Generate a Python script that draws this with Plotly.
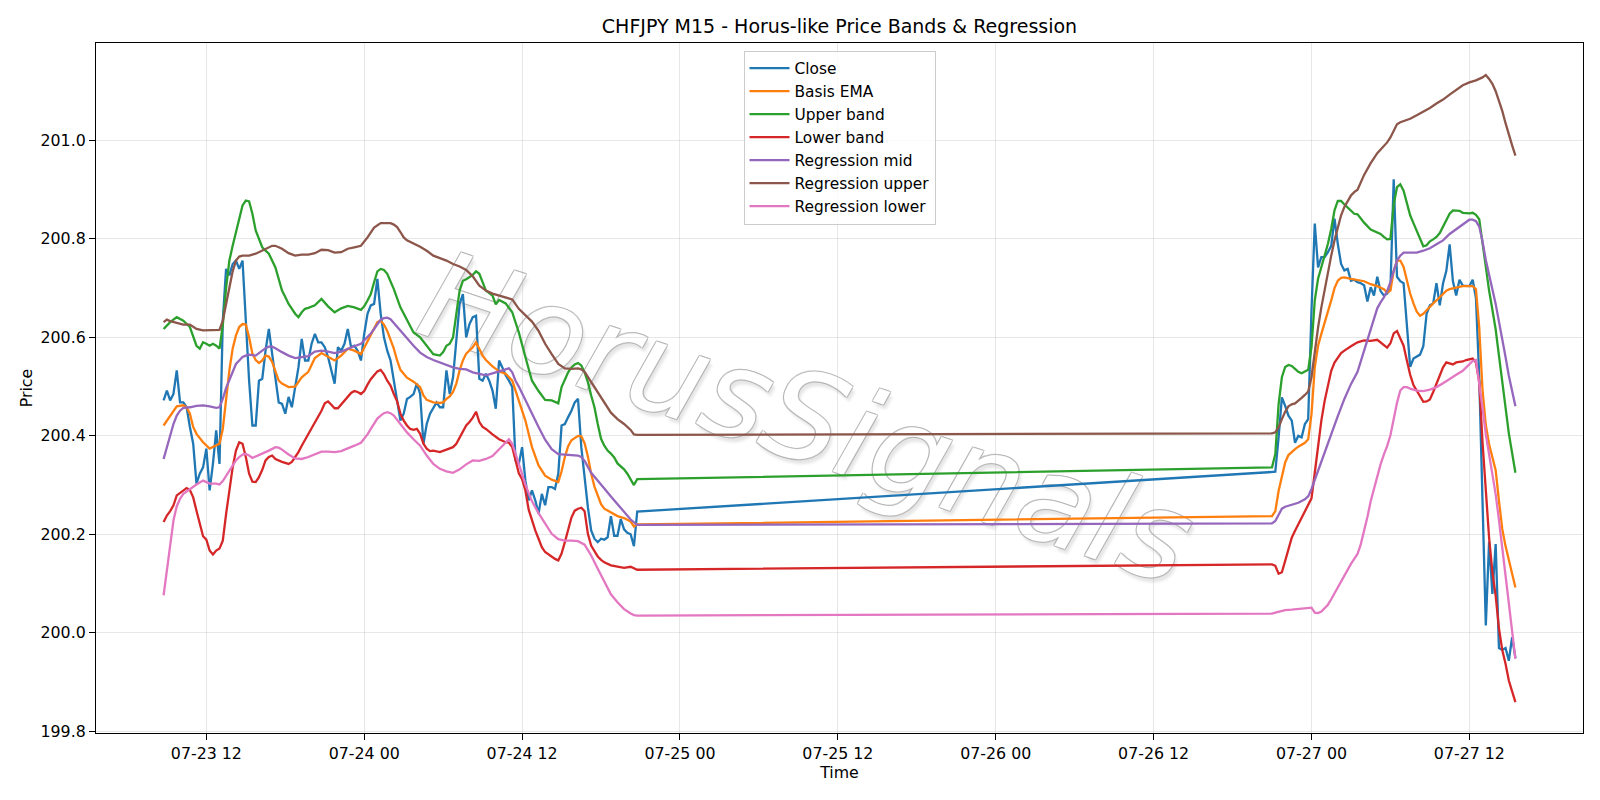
import pandas as pd
import plotly.graph_objects as go

# ---------------- time axis (15-minute bars, weekend gap) ----------------
fri_times = pd.date_range("2026-07-23 08:45", "2026-07-24 20:45", freq="15min")  # 145 bars
sun_times = pd.date_range("2026-07-26 21:00", "2026-07-27 15:30", freq="15min")  # 75 bars
times = fri_times.append(sun_times)
N_FRI = len(fri_times)

# ---------------- Close (every bar) ----------------
close_fri = [
    200.472, 200.492, 200.472, 200.485, 200.533, 200.468, 200.468, 200.458, 200.418, 200.384,
    200.303, 200.323, 200.336, 200.374, 200.289, 200.343, 200.411, 200.343, 200.634, 200.739,
    200.726, 200.749, 200.756, 200.739, 200.756, 200.634, 200.512, 200.421, 200.421, 200.512,
    200.516, 200.573, 200.617, 200.567, 200.512, 200.468, 200.465, 200.445, 200.479, 200.458,
    200.499, 200.539, 200.597, 200.553, 200.553, 200.587, 200.607, 200.590, 200.590, 200.580,
    200.560, 200.533, 200.506, 200.580, 200.573, 200.587, 200.617, 200.580, 200.583, 200.573,
    200.553, 200.607, 200.648, 200.665, 200.668, 200.719, 200.648, 200.600, 200.573, 200.553,
    200.512, 200.479, 200.431, 200.445, 200.475, 200.479, 200.485, 200.506, 200.485, 200.384,
    200.424, 200.445, 200.458, 200.468, 200.458, 200.458, 200.533, 200.485, 200.519, 200.600,
    200.668, 200.688, 200.600, 200.627, 200.641, 200.644, 200.516, 200.512, 200.526, 200.512,
    200.492, 200.455, 200.553, 200.539, 200.523, 200.512, 200.499, 200.350, 200.343, 200.377,
    200.309, 200.269, 200.289, 200.269, 200.242, 200.282, 200.259, 200.296, 200.296, 200.292,
    200.323, 200.421, 200.424, 200.438, 200.451, 200.468, 200.475, 200.377, 200.309, 200.255,
    200.208, 200.191, 200.184, 200.191, 200.189, 200.194, 200.237, 200.197, 200.197, 200.231,
    200.210, 200.203, 200.200, 200.176, 200.246,
]
close_sun = [
    200.327, 200.327, 200.397, 200.478, 200.461, 200.441, 200.431, 200.386, 200.400, 200.397,
    200.424, 200.434, 200.654, 200.831, 200.742, 200.763, 200.763, 200.773, 200.786, 200.841,
    200.790, 200.749, 200.736, 200.739, 200.715, 200.717, 200.712, 200.710, 200.706, 200.673,
    200.702, 200.685, 200.723, 200.694, 200.685, 200.689, 200.698, 200.921, 200.723, 200.714,
    200.710, 200.615, 200.540, 200.557, 200.561, 200.565, 200.582, 200.648, 200.665, 200.669,
    200.710, 200.665, 200.710, 200.735, 200.789, 200.714, 200.685, 200.717, 200.705, 200.704,
    200.704, 200.717, 200.680, 200.520, 200.280, 200.015, 200.185, 200.079, 200.180, 199.969,
    199.965, 199.969, 199.943, 199.991, 199.949,
]

# ---------------- smooth series: (bar, value) read at selected bars ----------------
ema_fri = [(0, 200.421), (2, 200.441), (4, 200.460), (6, 200.462), (7, 200.458), (8, 200.445), (9, 200.418),
           (10, 200.404), (12, 200.387), (14, 200.374), (15, 200.377), (16, 200.380), (17, 200.384),
           (18, 200.414), (19, 200.472), (20, 200.533), (21, 200.577), (22, 200.604), (23, 200.621),
           (24, 200.627), (25, 200.626), (26, 200.600), (27, 200.567), (28, 200.554), (29, 200.548),
           (30, 200.553), (31, 200.563), (32, 200.561), (33, 200.550), (34, 200.529), (35, 200.512),
           (36, 200.506), (38, 200.499), (40, 200.500), (41, 200.509), (42, 200.519), (44, 200.530),
           (46, 200.558), (48, 200.568), (50, 200.560), (52, 200.553), (54, 200.563), (56, 200.577),
           (58, 200.573), (60, 200.566), (61, 200.579), (62, 200.592), (63, 200.606), (64, 200.619),
           (65, 200.631), (66, 200.634), (67, 200.626), (68, 200.613), (69, 200.595), (70, 200.577),
           (71, 200.553), (72, 200.534), (74, 200.518), (76, 200.510), (78, 200.499), (79, 200.482),
           (80, 200.473), (82, 200.468), (84, 200.467), (85, 200.468), (86, 200.475), (87, 200.480),
           (88, 200.489), (89, 200.506), (90, 200.533), (91, 200.553), (92, 200.567), (93, 200.573),
           (94, 200.580), (95, 200.590), (96, 200.577), (97, 200.563), (98, 200.554), (100, 200.541),
           (102, 200.531), (104, 200.526), (106, 200.512), (107, 200.492), (108, 200.472), (109, 200.451),
           (110, 200.431), (112, 200.377), (114, 200.340), (116, 200.319), (118, 200.311), (120, 200.306),
           (121, 200.328), (122, 200.357), (123, 200.379), (124, 200.391), (126, 200.400), (127, 200.399),
           (128, 200.385), (129, 200.358), (130, 200.323), (131, 200.297), (132, 200.277), (133, 200.261),
           (134, 200.252), (136, 200.244), (138, 200.237), (140, 200.233), (142, 200.226), (143, 200.216),
           (144, 200.220)]
ema_sun = [(0, 200.237), (1, 200.247), (2, 200.288), (3, 200.319), (4, 200.346), (5, 200.361), (6, 200.368),
           (7, 200.373), (8, 200.378), (9, 200.382), (10, 200.386), (11, 200.393), (12, 200.444),
           (13, 200.539), (14, 200.583), (15, 200.607), (16, 200.628), (17, 200.649), (18, 200.675),
           (19, 200.700), (20, 200.715), (21, 200.721), (22, 200.722), (24, 200.719), (26, 200.717),
           (28, 200.714), (30, 200.708), (32, 200.704), (34, 200.698), (35, 200.691), (36, 200.695),
           (37, 200.735), (38, 200.756), (39, 200.756), (40, 200.743), (41, 200.714), (42, 200.689),
           (43, 200.669), (44, 200.652), (45, 200.644), (46, 200.648), (47, 200.655), (48, 200.663),
           (49, 200.669), (50, 200.675), (51, 200.681), (52, 200.689), (53, 200.695), (54, 200.698),
           (56, 200.701), (58, 200.704), (60, 200.704), (61, 200.704), (62, 200.698), (63, 200.620),
           (64, 200.493), (65, 200.422), (66, 200.383), (67, 200.359), (68, 200.330), (69, 200.268),
           (70, 200.211), (71, 200.176), (72, 200.150), (73, 200.123), (74, 200.092)]

upper_fri = [(0, 200.617), (2, 200.631), (4, 200.641), (6, 200.634), (8, 200.621), (9, 200.604), (10, 200.583),
             (11, 200.577), (12, 200.590), (13, 200.587), (14, 200.583), (15, 200.587), (16, 200.583),
             (17, 200.577), (18, 200.625), (19, 200.700), (20, 200.756), (21, 200.786), (22, 200.814),
             (23, 200.844), (24, 200.868), (25, 200.878), (26, 200.876), (27, 200.851), (28, 200.817),
             (29, 200.800), (30, 200.783), (31, 200.776), (32, 200.770), (34, 200.742), (36, 200.695),
             (37, 200.682), (38, 200.668), (40, 200.648), (41, 200.641), (42, 200.651), (43, 200.658),
             (44, 200.660), (46, 200.665), (48, 200.678), (50, 200.663), (52, 200.651), (54, 200.659),
             (56, 200.664), (58, 200.661), (60, 200.656), (61, 200.663), (62, 200.675), (63, 200.688),
             (64, 200.712), (65, 200.734), (66, 200.739), (67, 200.737), (68, 200.729), (69, 200.715),
             (70, 200.698), (72, 200.661), (74, 200.634), (76, 200.610), (78, 200.600), (80, 200.583),
             (82, 200.566), (84, 200.563), (85, 200.570), (86, 200.583), (87, 200.587), (88, 200.600),
             (89, 200.648), (90, 200.695), (91, 200.715), (92, 200.718), (94, 200.727), (95, 200.734),
             (96, 200.729), (97, 200.712), (98, 200.695), (100, 200.685), (101, 200.667), (102, 200.676),
             (104, 200.669), (106, 200.651), (108, 200.610), (110, 200.560), (112, 200.512), (114, 200.491),
             (116, 200.473), (118, 200.472), (120, 200.466), (121, 200.499), (122, 200.516), (123, 200.529),
             (124, 200.539), (125, 200.545), (126, 200.548), (127, 200.543), (128, 200.529), (129, 200.509),
             (130, 200.482), (131, 200.458), (132, 200.424), (133, 200.394), (134, 200.380), (135, 200.370),
             (136, 200.364), (137, 200.356), (138, 200.344), (139, 200.338), (140, 200.332), (141, 200.323),
             (142, 200.312), (143, 200.300), (144, 200.312)]
upper_sun = [(0, 200.336), (1, 200.363), (2, 200.464), (3, 200.519), (4, 200.540), (5, 200.544), (6, 200.542),
             (7, 200.536), (8, 200.530), (9, 200.527), (10, 200.531), (11, 200.534), (12, 200.580),
             (13, 200.675), (14, 200.719), (15, 200.742), (16, 200.769), (17, 200.790), (18, 200.820),
             (19, 200.858), (20, 200.877), (21, 200.877), (22, 200.870), (23, 200.863), (24, 200.858),
             (25, 200.851), (26, 200.850), (28, 200.833), (30, 200.819), (32, 200.812), (33, 200.810),
             (34, 200.804), (35, 200.799), (36, 200.800), (37, 200.870), (38, 200.905), (39, 200.911),
             (40, 200.898), (41, 200.872), (42, 200.848), (43, 200.832), (44, 200.815), (45, 200.799),
             (46, 200.785), (47, 200.787), (48, 200.795), (49, 200.799), (50, 200.804), (51, 200.812),
             (52, 200.824), (53, 200.836), (54, 200.851), (55, 200.858), (56, 200.857), (57, 200.857),
             (58, 200.853), (59, 200.852), (60, 200.852), (61, 200.853), (62, 200.849), (63, 200.840),
             (64, 200.792), (65, 200.739), (66, 200.695), (67, 200.656), (68, 200.616), (69, 200.563),
             (70, 200.511), (71, 200.457), (72, 200.405), (73, 200.365), (74, 200.325)]

lower_fri = [(0, 200.225), (1, 200.238), (2, 200.247), (3, 200.259), (4, 200.279), (5, 200.284), (6, 200.289),
             (7, 200.294), (8, 200.290), (9, 200.275), (10, 200.248), (11, 200.221), (12, 200.196),
             (13, 200.189), (14, 200.167), (15, 200.159), (16, 200.167), (17, 200.171), (18, 200.187),
             (19, 200.241), (20, 200.289), (21, 200.336), (22, 200.370), (23, 200.387), (24, 200.384),
             (25, 200.357), (26, 200.323), (27, 200.307), (28, 200.306), (29, 200.316), (30, 200.331),
             (31, 200.350), (32, 200.357), (33, 200.360), (34, 200.353), (36, 200.347), (38, 200.343),
             (39, 200.347), (40, 200.357), (41, 200.367), (42, 200.380), (43, 200.392), (44, 200.404),
             (45, 200.414), (46, 200.428), (48, 200.451), (49, 200.466), (50, 200.470), (51, 200.463),
             (52, 200.456), (53, 200.456), (54, 200.464), (55, 200.472), (56, 200.481), (57, 200.487),
             (58, 200.491), (59, 200.489), (60, 200.485), (61, 200.491), (62, 200.504), (63, 200.515),
             (64, 200.523), (65, 200.531), (66, 200.534), (67, 200.525), (68, 200.512), (69, 200.502),
             (70, 200.485), (71, 200.470), (72, 200.445), (73, 200.431), (74, 200.421), (75, 200.414),
             (76, 200.412), (77, 200.414), (78, 200.404), (79, 200.384), (80, 200.374), (81, 200.369),
             (82, 200.370), (84, 200.367), (86, 200.372), (87, 200.374), (88, 200.377), (89, 200.384),
             (90, 200.397), (91, 200.411), (92, 200.421), (93, 200.428), (94, 200.437), (95, 200.449),
             (96, 200.428), (97, 200.418), (98, 200.414), (100, 200.403), (102, 200.393), (104, 200.387),
             (105, 200.386), (106, 200.377), (107, 200.351), (108, 200.324), (109, 200.312), (110, 200.289),
             (111, 200.250), (112, 200.228), (113, 200.208), (114, 200.191), (115, 200.174), (116, 200.164),
             (118, 200.154), (119, 200.150), (120, 200.147), (121, 200.161), (122, 200.184), (123, 200.208),
             (124, 200.234), (125, 200.248), (126, 200.252), (127, 200.254), (128, 200.247), (129, 200.201),
             (130, 200.177), (131, 200.166), (132, 200.155), (133, 200.148), (134, 200.143), (136, 200.137),
             (138, 200.134), (140, 200.132), (142, 200.134), (144, 200.128)]
lower_sun = [(0, 200.139), (1, 200.136), (2, 200.120), (3, 200.123), (4, 200.146), (5, 200.169), (6, 200.193),
             (7, 200.207), (8, 200.220), (9, 200.234), (10, 200.247), (11, 200.261), (12, 200.273),
             (13, 200.325), (14, 200.383), (15, 200.431), (16, 200.471), (17, 200.505), (18, 200.532),
             (19, 200.549), (20, 200.559), (21, 200.568), (22, 200.573), (23, 200.578), (24, 200.582),
             (25, 200.586), (26, 200.590), (28, 200.594), (30, 200.593), (32, 200.595), (33, 200.590),
             (34, 200.584), (35, 200.579), (36, 200.588), (37, 200.608), (38, 200.613), (39, 200.598),
             (40, 200.583), (41, 200.553), (42, 200.524), (43, 200.503), (44, 200.491), (45, 200.481),
             (46, 200.469), (47, 200.470), (48, 200.474), (49, 200.489), (50, 200.506), (51, 200.522),
             (52, 200.539), (53, 200.549), (54, 200.547), (55, 200.545), (56, 200.549), (57, 200.550),
             (58, 200.551), (59, 200.554), (60, 200.555), (61, 200.557), (62, 200.549), (63, 200.510),
             (64, 200.387), (65, 200.281), (66, 200.193), (67, 200.123), (68, 200.075), (69, 200.009),
             (70, 199.965), (71, 199.937), (72, 199.903), (73, 199.881), (74, 199.859)]

regmid_fri = [(0, 200.353), (1, 200.378), (2, 200.404), (3, 200.424), (4, 200.441), (5, 200.451), (6, 200.457),
              (8, 200.458), (10, 200.461), (12, 200.462), (14, 200.460), (16, 200.457), (17, 200.458),
              (18, 200.475), (19, 200.497), (20, 200.514), (21, 200.533), (22, 200.546), (23, 200.553),
              (24, 200.560), (25, 200.563), (26, 200.565), (28, 200.563), (29, 200.569), (30, 200.573),
              (31, 200.578), (32, 200.581), (33, 200.581), (34, 200.578), (36, 200.570), (38, 200.563),
              (40, 200.558), (42, 200.560), (44, 200.562), (46, 200.571), (48, 200.573), (50, 200.571),
              (52, 200.568), (54, 200.571), (56, 200.577), (58, 200.582), (60, 200.587), (61, 200.594),
              (62, 200.600), (63, 200.608), (64, 200.617), (65, 200.627), (66, 200.636), (67, 200.639),
              (68, 200.640), (69, 200.637), (70, 200.629), (72, 200.613), (74, 200.597), (76, 200.583),
              (78, 200.569), (80, 200.560), (82, 200.554), (84, 200.549), (86, 200.543), (88, 200.539),
              (90, 200.536), (92, 200.535), (94, 200.529), (96, 200.526), (98, 200.523), (100, 200.527),
              (102, 200.531), (104, 200.536), (105, 200.537), (106, 200.529), (107, 200.512), (108, 200.500),
              (110, 200.472), (112, 200.445), (114, 200.418), (116, 200.392), (118, 200.373), (120, 200.363),
              (122, 200.362), (124, 200.362), (126, 200.360), (127, 200.357), (128, 200.349), (130, 200.325),
              (132, 200.308), (134, 200.293), (136, 200.277), (138, 200.262), (140, 200.246), (142, 200.230),
              (144, 200.219)]
regmid_sun = [(0, 200.222), (1, 200.227), (2, 200.241), (3, 200.252), (4, 200.256), (6, 200.260), (8, 200.264),
              (10, 200.271), (11, 200.277), (12, 200.292), (14, 200.330), (16, 200.368), (18, 200.405),
              (20, 200.440), (22, 200.475), (24, 200.505), (26, 200.530), (27, 200.552), (28, 200.574),
              (29, 200.597), (30, 200.619), (31, 200.640), (32, 200.659), (33, 200.671), (34, 200.681),
              (35, 200.694), (36, 200.712), (37, 200.735), (38, 200.756), (39, 200.766), (40, 200.772),
              (42, 200.772), (44, 200.772), (46, 200.776), (48, 200.781), (50, 200.789), (52, 200.797),
              (54, 200.810), (56, 200.820), (58, 200.830), (60, 200.839), (61, 200.839), (62, 200.836),
              (63, 200.825), (64, 200.795), (65, 200.757), (66, 200.727), (67, 200.700), (68, 200.668),
              (69, 200.632), (70, 200.598), (71, 200.560), (72, 200.522), (73, 200.490), (74, 200.460)]

regup_fri = [(0, 200.631), (1, 200.636), (2, 200.633), (4, 200.629), (6, 200.626), (8, 200.626), (10, 200.617),
             (12, 200.614), (14, 200.614), (16, 200.614), (17, 200.615), (18, 200.634), (19, 200.668),
             (20, 200.707), (21, 200.734), (22, 200.756), (23, 200.764), (24, 200.766), (26, 200.766),
             (28, 200.770), (30, 200.776), (32, 200.783), (33, 200.786), (34, 200.786), (36, 200.780),
             (38, 200.771), (40, 200.766), (42, 200.768), (44, 200.768), (46, 200.771), (48, 200.778),
             (50, 200.777), (52, 200.772), (54, 200.773), (56, 200.780), (58, 200.783), (60, 200.786),
             (62, 200.803), (64, 200.823), (66, 200.832), (68, 200.832), (69, 200.832), (70, 200.829),
             (71, 200.824), (72, 200.814), (73, 200.803), (74, 200.797), (76, 200.791), (78, 200.784),
             (80, 200.776), (82, 200.766), (84, 200.761), (86, 200.756), (88, 200.749), (90, 200.744),
             (92, 200.737), (94, 200.724), (96, 200.705), (98, 200.695), (100, 200.689), (102, 200.685),
             (104, 200.682), (106, 200.677), (108, 200.658), (110, 200.644), (112, 200.632), (114, 200.613),
             (116, 200.587), (118, 200.566), (120, 200.546), (122, 200.537), (124, 200.536), (126, 200.537),
             (127, 200.535), (128, 200.530), (130, 200.509), (132, 200.487), (134, 200.466), (136, 200.447),
             (138, 200.434), (140, 200.424), (142, 200.412), (143, 200.403), (144, 200.402)]
regup_sun = [(0, 200.405), (1, 200.407), (2, 200.417), (3, 200.434), (4, 200.449), (5, 200.460), (6, 200.464),
             (7, 200.466), (8, 200.471), (9, 200.477), (10, 200.483), (11, 200.490), (12, 200.519),
             (13, 200.573), (14, 200.620), (15, 200.661), (16, 200.698), (17, 200.732), (18, 200.766),
             (19, 200.797), (20, 200.825), (21, 200.848), (22, 200.865), (23, 200.878), (24, 200.888),
             (25, 200.895), (26, 200.900), (28, 200.930), (30, 200.954), (32, 200.974), (34, 200.989),
             (35, 200.996), (36, 201.006), (37, 201.021), (38, 201.033), (39, 201.037), (40, 201.039),
             (42, 201.044), (44, 201.051), (46, 201.058), (48, 201.066), (50, 201.075), (52, 201.083),
             (54, 201.093), (56, 201.102), (58, 201.112), (60, 201.118), (62, 201.122), (64, 201.128),
             (65, 201.133), (66, 201.125), (67, 201.115), (68, 201.100), (69, 201.080), (70, 201.060),
             (71, 201.035), (72, 201.010), (73, 200.990), (74, 200.969)]

reglow_fri = [(0, 200.076), (1, 200.130), (2, 200.184), (3, 200.228), (4, 200.257), (5, 200.272), (6, 200.282),
              (8, 200.292), (10, 200.301), (12, 200.309), (13, 200.306), (14, 200.303), (16, 200.303),
              (17, 200.301), (18, 200.308), (19, 200.319), (20, 200.330), (21, 200.340), (22, 200.350),
              (23, 200.357), (24, 200.362), (25, 200.363), (26, 200.360), (27, 200.355), (28, 200.358),
              (30, 200.363), (32, 200.370), (34, 200.377), (35, 200.376), (36, 200.372), (38, 200.362),
              (40, 200.354), (42, 200.353), (44, 200.357), (46, 200.362), (48, 200.368), (50, 200.368),
              (52, 200.367), (54, 200.369), (56, 200.374), (58, 200.380), (60, 200.386), (61, 200.394),
              (62, 200.403), (63, 200.414), (64, 200.424), (65, 200.435), (66, 200.441), (67, 200.446),
              (68, 200.448), (69, 200.446), (70, 200.441), (72, 200.424), (74, 200.407), (76, 200.393),
              (78, 200.380), (80, 200.360), (82, 200.343), (84, 200.333), (86, 200.328), (88, 200.325),
              (90, 200.332), (92, 200.342), (94, 200.350), (96, 200.349), (98, 200.353), (100, 200.359),
              (102, 200.373), (104, 200.387), (105, 200.393), (106, 200.384), (107, 200.365), (108, 200.343),
              (110, 200.301), (112, 200.267), (114, 200.243), (116, 200.221), (118, 200.201), (120, 200.190),
              (122, 200.187), (124, 200.187), (126, 200.186), (128, 200.179), (130, 200.157), (132, 200.130),
              (134, 200.103), (136, 200.078), (138, 200.062), (140, 200.048), (142, 200.039), (143, 200.036),
              (144, 200.035)]
reglow_sun = [(0, 200.039), (1, 200.041), (2, 200.043), (3, 200.044), (4, 200.046), (6, 200.047), (8, 200.048),
              (10, 200.049), (12, 200.051), (13, 200.041), (14, 200.040), (15, 200.043), (16, 200.049),
              (17, 200.057), (18, 200.068), (19, 200.080), (20, 200.093), (21, 200.105), (22, 200.118),
              (23, 200.130), (24, 200.140), (25, 200.150), (26, 200.160), (27, 200.180), (28, 200.205),
              (29, 200.235), (30, 200.267), (31, 200.294), (32, 200.318), (33, 200.342), (34, 200.362),
              (35, 200.379), (36, 200.401), (37, 200.434), (38, 200.467), (39, 200.492), (40, 200.499),
              (41, 200.499), (42, 200.496), (44, 200.492), (46, 200.491), (48, 200.494), (50, 200.499),
              (52, 200.507), (54, 200.516), (56, 200.524), (58, 200.532), (60, 200.545), (61, 200.552),
              (62, 200.554), (63, 200.510), (64, 200.457), (65, 200.403), (66, 200.361), (67, 200.321),
              (68, 200.281), (69, 200.229), (70, 200.174), (71, 200.114), (72, 200.053), (73, 200.000),
              (74, 199.947)]

series_names = ["Close", "Basis EMA", "Upper band", "Lower band",
                "Regression mid", "Regression upper", "Regression lower"]
series_colors = ["#1f77b4", "#ff7f0e", "#2ca02c", "#d62728", "#9467bd", "#8c564b", "#e377c2"]
y_ticks = [199.8, 200.0, 200.2, 200.4, 200.6, 200.8, 201.0]
title_text = "CHFJPY M15 - Horus-like Price Bands & Regression"
watermark_text = "HorusSignals"


def xy(fri, sun):
    idx = [i for i, _ in fri] + [N_FRI + j for j, _ in sun]
    vals = [v for _, v in fri] + [v for _, v in sun]
    return times[idx], vals


series_data = [
    (times, close_fri + close_sun),
    xy(ema_fri, ema_sun),
    xy(upper_fri, upper_sun),
    xy(lower_fri, lower_sun),
    xy(regmid_fri, regmid_sun),
    xy(regup_fri, regup_sun),
    xy(reglow_fri, reglow_sun),
]

FONT = "DejaVu Sans"
FS = 15.8
fig = go.Figure()
for (x, y), name, color in zip(series_data, series_names, series_colors):
    fig.add_trace(go.Scatter(x=x, y=y, mode="lines", name=name,
                             line=dict(color=color, width=2.3)))

# axis ranges with matplotlib-like 5% margins
t0, t1 = times[0], times[-1]
pad = (t1 - t0) * 0.05
x_range = [t0 - pad, t1 + pad]

axis_common = dict(showline=True, mirror=True, linecolor="black", linewidth=1.2,
                   ticks="outside", ticklen=6, tickwidth=1.2, tickcolor="black",
                   showgrid=True, gridcolor="rgba(176,176,176,0.3)", gridwidth=1.2,
                   zeroline=False, tickfont=dict(family=FONT, size=FS, color="black"),
                   automargin=False)

fig.update_layout(
    width=1600, height=800,
    margin=dict(l=96, r=17, t=43, b=67),
    paper_bgcolor="white", plot_bgcolor="white",
    font=dict(family=FONT, size=FS, color="black"),
    title=dict(text=title_text, x=0.5, xref="paper", xanchor="center",
               y=1 - 26 / 800, yref="container", yanchor="middle",
               font=dict(family=FONT, size=19, color="black")),
    xaxis=dict(type="date", range=x_range, tick0="2026-07-23 00:00", dtick=12 * 3600 * 1000,
               tickformat="%m-%d %H",
               title=dict(text="Time", font=dict(family=FONT, size=FS), standoff=2),
               **axis_common),
    yaxis=dict(range=[199.7964, 201.1979], tickvals=y_ticks,
               ticktext=[f"{v:.1f}" for v in y_ticks],
               title=dict(text="Price", font=dict(family=FONT, size=FS), standoff=3),
               **axis_common),
    legend=dict(x=0.5, xanchor="center", y=0.989, yanchor="top",
                bgcolor="rgba(255,255,255,0.8)", bordercolor="#cccccc", borderwidth=1,
                font=dict(family=FONT, size=15.4, color="black"), itemwidth=40),
    showlegend=True,
)

# faint outlined watermark drawn beneath the data
wm_x, wm_y = 0.480, 0.469
sc = "rgba(175,175,175,0.75)"
wm_shadow = (f"1px 1px 0 {sc}, -1px -1px 0 {sc}, 1px -1px 0 {sc}, -1px 1px 0 {sc}, "
             "4px 4px 3px rgba(0,0,0,0.10)")
fig.add_shape(type="line", xref="paper", yref="paper",
              x0=wm_x - 0.05, y0=wm_y, x1=wm_x + 0.05, y1=wm_y,
              layer="below", line=dict(width=0),
              label=dict(text=watermark_text, textangle=18.5, textposition="middle",
                         xanchor="center", yanchor="middle",
                         font=dict(family=FONT, size=123, color="white", style="italic",
                                   shadow=wm_shadow)))

fig.write_html("out.html")
